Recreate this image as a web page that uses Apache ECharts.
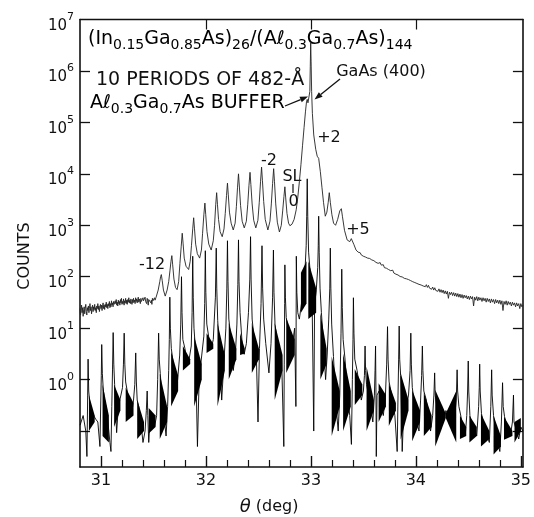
<!DOCTYPE html>
<html>
<head>
<meta charset="utf-8">
<script src="https://cdn.jsdelivr.net/npm/echarts@6/dist/echarts.min.js"></script>
<style>
  html, body { margin: 0; padding: 0; background: #fff; }
  #chart { width: 534px; height: 517px; }
</style>
</head>
<body>
<div id="chart"></div>
<script>
// Measured double-crystal rocking curve: [theta (deg), counts]
const measuredLowAngle = [
  [30.800,24],[30.805,18],[30.810,22],[30.815,28],[30.820,20],[30.825,25],[30.830,17],[30.835,23],[30.840,26],[30.845,19],
  [30.850,24],[30.855,29],[30.860,21],[30.865,18],[30.870,25],[30.875,22],[30.880,27],[30.885,20],[30.890,24],[30.895,30],
  [30.900,22],[30.905,26],[30.910,19],[30.915,24],[30.920,28],[30.925,21],[30.930,26],[30.935,23],[30.940,29],[30.945,22],
  [30.950,25],[30.955,20],[30.960,27],[30.965,24],[30.970,30],[30.975,23],[30.980,27],[30.985,21],[30.990,26],[30.995,29],
  [31.000,24],[31.005,28],[31.010,22],[31.015,27],[31.020,31],[31.025,24],[31.030,28],[31.035,23],[31.040,29],[31.045,26],
  [31.050,32],[31.055,25],[31.060,29],[31.065,24],[31.070,30],[31.075,27],[31.080,33],[31.085,25],[31.090,30],[31.095,26],
  [31.100,34],[31.105,28],[31.110,31],[31.115,26],[31.120,33],[31.125,29],[31.130,27],[31.135,34],[31.140,30],[31.145,36],
  [31.150,28],[31.155,32],[31.160,27],[31.165,35],[31.170,30],[31.175,33],[31.180,28],[31.185,36],[31.190,31],[31.195,38],
  [31.200,29],[31.205,33],[31.210,30],[31.215,37],[31.220,28],[31.225,34],[31.230,31],[31.235,38],[31.240,30],[31.245,35],
  [31.250,29],[31.255,36],[31.260,32],[31.265,39],[31.270,31],[31.275,35],[31.280,30],[31.285,37],[31.290,33],[31.295,29],
  [31.300,36],[31.305,31],[31.310,38],[31.315,32],[31.320,35],[31.325,30],[31.330,39],[31.335,33],[31.340,37],[31.345,31],
  [31.350,36],[31.355,40],[31.360,32],[31.365,37],[31.370,34],[31.375,30],[31.380,38],[31.385,33],[31.390,36],[31.395,31],
  [31.400,39],[31.405,34],[31.410,37],[31.415,32],[31.420,40],[31.425,33],[31.430,36],[31.435,30],[31.440,38],[31.445,34],
  [31.450,28],[31.455,36],[31.460,39],[31.465,33],[31.470,37],[31.475,31],[31.480,35],[31.485,29],[31.490,38],[31.495,34],
  [31.500,37],[31.505,33],[31.510,39],[31.515,35],[31.520,38],[31.525,40]
];
const measuredSatellites = [
  [31.53,42],[31.545,55],[31.56,80],[31.568,100],[31.575,110],[31.583,85],[31.595,55],[31.612,42],[31.63,55],
  [31.645,80],[31.657,130],[31.667,200],[31.675,257],[31.683,170],[31.695,90],[31.71,62],[31.725,56],[31.74,80],
  [31.752,180],[31.764,380],[31.774,700],[31.782,450],[31.793,230],[31.81,160],[31.835,138],[31.85,200],[31.862,400],
  [31.874,850],[31.883,1400],[31.891,850],[31.902,430],[31.918,280],[31.94,230],[31.957,330],[31.968,700],[31.98,1600],
  [31.99,2700],[31.998,1600],[32.01,750],[32.027,430],[32.05,330],[32.07,500],[32.082,1000],[32.093,2500],[32.102,4300],
  [32.11,2500],[32.12,1300],[32.135,750],[32.155,600],[32.172,850],[32.184,1700],[32.196,3800],[32.205,6600],[32.213,3900],
  [32.224,1800],[32.24,1100],[32.26,810],[32.278,1100],[32.29,2300],[32.301,5500],[32.31,10000],[32.318,5800],[32.33,2400],
  [32.345,1200],[32.365,890],[32.385,1200],[32.398,2500],[32.41,6000],[32.42,10700],[32.428,6200],[32.44,2600],[32.455,1250],
  [32.475,890],[32.495,1250],[32.508,2800],[32.52,7000],[32.53,13500],[32.538,7500],[32.55,2900],[32.565,1300],[32.59,810],
  [32.61,1200],[32.623,2600],[32.635,6500],[32.645,12600],[32.653,7000],[32.665,2600],[32.68,1150],[32.70,740],[32.718,1000],
  [32.731,1900],[32.743,3600],[32.752,5600],[32.76,3400],[32.772,1700],[32.787,1100],[32.80,980],[32.82,1050],[32.84,1300],
  [32.86,2000],[32.875,3500],[32.89,7000],[32.905,15000],[32.92,35000],[32.935,80000],[32.948,160000],[32.958,250000],
  [32.965,280000],[32.972,240000],[32.982,220000],[32.99,400000],[32.994,1200000],[32.998,3500000],[33.002,1500000],
  [33.007,400000],[33.014,150000],[33.027,57000],[33.046,30000],[33.06,22000],[33.074,20000],[33.09,11000],[33.105,5500],
  [33.12,2800],[33.137,1500],[33.152,1800],[33.165,2800],[33.175,4300],[33.185,2800],[33.2,1600],[33.216,1100],[33.235,1000],
  [33.255,1300],[33.275,1900],[33.29,2100],[33.3,1500],[33.32,800],[33.345,520],[33.37,480],[33.385,550],[33.398,560],
  [33.41,420],[33.43,330]
];
const measuredTail = [
  [33.45,300],[33.46,280],[33.47,292],[33.48,265],[33.49,275],[33.50,250],[33.51,262],[33.52,241],[33.53,255],[33.54,230],
  [33.55,238],[33.56,226],[33.57,242],[33.58,212],[33.59,220],[33.60,205],[33.61,214],[33.62,190],[33.63,200],[33.64,182],
  [33.65,176],[33.66,188],[33.67,168],[33.68,160],[33.69,171],[33.70,150],[33.71,158],[33.72,146],[33.73,154],[33.74,138],
  [33.75,144],[33.76,131],[33.77,126],[33.78,134],[33.79,118],[33.80,123],[33.81,112],[33.82,119],[33.83,108],[33.84,114],
  [33.85,101],[33.86,109],[33.87,99],[33.88,104],[33.89,93],[33.90,100],[33.91,91],[33.92,97],[33.93,88],[33.94,94],
  [33.95,84],[33.96,90],[33.97,80],[33.98,86],[33.99,77],[34.00,83],[34.01,74],[34.02,80],[34.03,71],[34.04,77],
  [34.05,69],[34.06,74],[34.07,66],[34.08,72],[34.09,64],[34.10,70],[34.11,62],[34.12,68],[34.13,60],[34.14,65],
  [34.15,57],[34.16,63],[34.17,55],[34.18,61],[34.19,54],[34.20,59],[34.21,52],[34.22,58],[34.23,50],[34.24,56],
  [34.25,49],[34.26,55],[34.27,47],[34.28,53],[34.29,46],[34.30,52],[34.31,38],[34.32,50],[34.33,45],[34.34,50],
  [34.35,43],[34.36,49],[34.37,42],[34.38,48],[34.39,41],[34.40,47],[34.41,40],[34.42,46],[34.43,39],[34.44,45],
  [34.45,38],[34.46,44],[34.47,39],[34.48,43],[34.49,37],[34.50,42],[34.51,36],[34.52,42],[34.53,37],[34.54,41],
  [34.55,27],[34.56,40],[34.57,35],[34.58,41],[34.59,34],[34.60,40],[34.61,35],[34.62,39],[34.63,33],[34.64,39],
  [34.65,34],[34.66,38],[34.67,32],[34.68,38],[34.69,33],[34.70,37],[34.71,31],[34.72,37],[34.73,32],[34.74,36],
  [34.75,30],[34.76,36],[34.77,31],[34.78,35],[34.79,30],[34.80,35],[34.81,29],[34.82,34],[34.83,22],[34.84,33],
  [34.85,29],[34.86,34],[34.87,28],[34.88,33],[34.89,29],[34.90,32],[34.91,27],[34.92,32],[34.93,28],[34.94,31],
  [34.95,26],[34.96,31],[34.97,27],[34.98,30],[34.99,24],[35.00,30],[35.01,26],[35.02,28]
];
const measured = measuredLowAngle.concat(measuredSatellites, measuredTail);

// Simulated rocking curve (kinematic model), thin trace: [theta (deg), counts]
const simulated = [
  [30.801,0.13],[30.83,0.2],[30.855,0.1],[30.866,0.032],[30.873,0.5],[30.877,2.5],
  [30.883,0.6],[30.895,0.32],[30.91,0.25],[30.93,0.2],[30.95,0.17],[30.97,0.15],[30.99,0.05],[30.998,0.4],[31.003,1.2],[31.007,4.8],
  [31.013,1.3],[31.022,0.63],[31.035,0.4],[31.06,0.2],[31.085,0.06],[31.095,0.04],[31.103,0.3],[31.11,1.6],[31.116,8.2],
  [31.122,2],[31.13,0.8],[31.149,0.093],[31.165,0.3],[31.19,0.5],[31.205,0.7],[31.214,2],[31.221,8],
  [31.227,2],[31.235,0.9],[31.25,0.6],[31.27,0.3],[31.29,0.2],[31.31,0.4],[31.322,0.8],[31.331,3.3],
  [31.337,0.9],[31.345,0.4],[31.36,0.3],[31.38,0.15],[31.40,0.06],[31.42,0.1],[31.432,0.25],[31.44,0.6],
  [31.446,0.2],[31.455,0.06],[31.47,0.2],[31.49,0.15],[31.51,0.12],[31.53,0.2],[31.54,1.0],[31.549,8],
  [31.555,2.5],[31.565,1.3],[31.58,0.5],[31.6,0.2],[31.62,0.08],[31.635,0.3],[31.645,1.5],[31.651,6],[31.656,40],
  [31.661,10],[31.67,4],[31.69,2],[31.71,0.5],[31.73,1],[31.75,3],[31.76,12],[31.767,100],
  [31.772,20],[31.78,6],[31.80,4],[31.82,2],[31.84,2.5],[31.86,4.5],[31.868,20],[31.874,250],
  [31.879,40],[31.886,10],[31.9,4],[31.919,0.05],[31.935,1],[31.96,3],[31.98,7],[31.988,30],[31.994,320],
  [31.999,50],[32.008,12],[32.03,6],[32.05,4],[32.07,6],[32.09,40],[32.098,360],
  [32.103,60],[32.112,14],[32.13,4],[32.15,0.4],[32.17,2],[32.19,10],[32.199,60],[32.205,500],
  [32.21,80],[32.218,15],[32.24,6],[32.26,1.5],[32.28,3],[32.295,12],[32.304,70],[32.31,520],
  [32.315,80],[32.325,20],[32.345,5],[32.364,3.1],[32.385,5],[32.405,20],[32.418,90],[32.425,600],
  [32.43,90],[32.44,15],[32.46,6],[32.48,3],[32.496,0.15],[32.51,4],[32.525,30],[32.534,400],
  [32.54,60],[32.55,15],[32.57,5],[32.6,1.35],[32.62,5],[32.635,40],[32.643,330],
  [32.648,50],[32.658,12],[32.68,5],[32.7,1.5],[32.72,3],[32.742,0.05],[32.746,2],[32.75,30],[32.752,170],
  [32.757,40],[32.765,16],[32.79,8],[32.81,3],[32.83,6],[32.845,10],[32.857,0.3],[32.861,250],
  [32.866,50],[32.875,20],[32.89,15],[32.91,30],[32.93,60],[32.945,150],[32.955,400],[32.96,1500],[32.965,8000],
  [32.97,1500],[32.978,300],[32.99,150],[33.01,60],[33.027,0.1],[33.035,30],[33.05,50],[33.065,150],[33.07,400],[33.074,1500],
  [33.079,300],[33.087,60],[33.1,20],[33.12,5],[33.14,1],[33.155,3],[33.17,15],[33.18,60],[33.185,360],
  [33.19,60],[33.198,12],[33.215,2.8],[33.24,0.3],[33.26,0.1],[33.275,0.5],[33.287,8],[33.294,140],
  [33.299,25],[33.307,6],[33.325,2.5],[33.35,0.5],[33.37,0.2],[33.386,0.055],[33.395,1],[33.401,6],[33.405,39],
  [33.41,8],[33.418,2.5],[33.44,1.5],[33.46,0.8],[33.48,0.4],[33.5,0.6],[33.51,1.2],[33.516,4.5],
  [33.521,1.5],[33.53,0.8],[33.55,0.5],[33.57,0.3],[33.59,0.15],[33.605,0.5],[33.611,1.5],[33.616,4.5],
  [33.62,0.5],[33.623,0.032],[33.63,0.5],[33.65,0.6],[33.67,0.3],[33.69,0.2],[33.71,0.5],[33.722,2],[33.73,10.7],
  [33.735,2.5],[33.745,0.9],[33.77,0.5],[33.8,0.2],[33.822,0.04],[33.83,0.5],[33.836,2.5],[33.841,11],
  [33.846,2.5],[33.855,1.2],[33.87,0.04],[33.89,0.5],[33.91,0.3],[33.93,0.5],[33.945,1.5],[33.952,8],
  [33.957,2],[33.966,0.7],[33.99,0.3],[34.01,0.15],[34.03,0.1],[34.045,0.4],[34.055,1.2],[34.062,4.5],
  [34.067,1.5],[34.076,0.6],[34.1,0.4],[34.12,0.2],[34.14,0.1],[34.16,0.2],[34.172,0.5],[34.179,1.35],
  [34.184,0.5],[34.2,0.3],[34.23,0.2],[34.26,0.15],[34.286,0.25],[34.31,0.2],[34.34,0.15],[34.37,0.2],[34.385,0.4],[34.393,1.55],
  [34.398,0.6],[34.41,0.3],[34.43,0.19],[34.45,0.1],[34.47,0.08],[34.485,0.2],[34.493,0.6],[34.499,2.3],
  [34.504,0.6],[34.515,0.2],[34.54,0.12],[34.56,0.1],[34.58,0.08],[34.598,0.3],[34.604,0.7],[34.608,2.0],
  [34.613,0.6],[34.625,0.22],[34.65,0.12],[34.68,0.08],[34.7,0.06],[34.714,0.3],[34.722,1.55],
  [34.727,0.5],[34.74,0.2],[34.76,0.1],[34.78,0.06],[34.8,0.04],[34.815,0.15],[34.826,0.87],
  [34.832,0.3],[34.845,0.19],[34.87,0.12],[34.9,0.08],[34.92,0.15],[34.93,0.5],[34.935,0.15],[34.96,0.1],[34.98,0.07],[35.0,0.12],[35.02,0.1]
];

// Unresolved thickness fringes of the simulation, as envelopes:
// [theta start, theta end, upper at start, lower at start, upper at end, lower at end]
const fringeBands = [
  [30.885,30.94,0.5,0.1,0.2,0.15],
  [31.015,31.075,0.8,0.08,0.2,0.06],
  [31.125,31.185,0.8,0.12,0.4,0.25],
  [31.235,31.31,0.7,0.15,0.35,0.2],
  [31.345,31.41,0.4,0.07,0.15,0.1],
  [31.455,31.52,0.28,0.09,0.2,0.12],
  [31.56,31.63,1.3,0.07,0.3,0.15],
  [31.668,31.735,3.5,0.3,1.2,0.6],
  [31.78,31.85,4.5,1.5,2.5,2],
  [31.888,31.96,7,0.3,2,1],
  [32.006,32.07,8,3.3,5,4],
  [32.11,32.18,12.6,0.3,3,1.5],
  [32.217,32.29,12.6,1,4,2.5],
  [32.325,32.37,8,3,4,3.2],
  [32.437,32.505,12.6,1.35,4,2.5],
  [32.655,32.73,12.6,0.4,3,1.5],
  [32.765,32.845,16,1.35,6,3],
  [32.905,32.958,120,20,200,30],
  [32.975,33.05,200,15,60,20],
  [33.09,33.15,20,1,4,2],
  [33.198,33.275,2.8,0.08,0.6,0.3],
  [33.307,33.38,3.2,0.1,0.6,0.3],
  [33.418,33.49,1.6,0.32,0.8,0.5],
  [33.53,33.6,1.8,0.1,0.4,0.25],
  [33.645,33.715,0.85,0.15,0.5,0.3],
  [33.742,33.81,0.85,0.126,0.35,0.25],
  [33.855,33.93,1.35,0.068,0.4,0.25],
  [33.965,34.04,0.63,0.063,0.25,0.15],
  [34.076,34.15,0.56,0.08,0.2,0.12],
  [34.185,34.285,0.63,0.05,0.22,0.18],
  [34.285,34.385,0.22,0.18,0.6,0.06],
  [34.42,34.48,0.2,0.07,0.12,0.08],
  [34.51,34.58,0.2,0.06,0.12,0.08],
  [34.62,34.7,0.22,0.05,0.1,0.07],
  [34.74,34.81,0.2,0.035,0.08,0.05],
  [34.84,34.92,0.19,0.068,0.1,0.08],
  [34.94,35.0,0.15,0.06,0.18,0.1]
];

// Axis ticks and labels
const thetaMajor = [31, 32, 33, 34, 35];
const thetaMinor = [31.2,31.4,31.6,31.8,32.2,32.4,32.6,32.8,33.2,33.4,33.6,33.8,34.2,34.4,34.6,34.8];
const thetaTop = [32, 33, 34];
const countTicks = [0.1, 1, 10, 100, 1e3, 1e4, 1e5, 1e6];
const countLabels = [1, 10, 100, 1e3, 1e4, 1e5, 1e6, 1e7];

const FONT = 'DejaVu Sans';
const INK = '#111';

const chart = echarts.init(document.getElementById('chart'), null, { renderer: 'canvas' });

const xBase = { type: 'value', min: 30.8, max: 35.02, gridIndex: 0, splitLine: { show: false } };
const yBase = { type: 'log', logBase: 10, min: 0.02, max: 1e7, gridIndex: 0, splitLine: { show: false }, minorTick: { show: false } };

// Formula text: main glyphs and lowered subscripts
const rich = {
  m: { fontSize: 19, fontFamily: FONT, color: INK, lineHeight: 22, verticalAlign: 'top' },
  s: { fontSize: 14, fontFamily: FONT, color: INK, lineHeight: 16, padding: [8, 0, 0, 0], verticalAlign: 'top' }
};

function label(text, x, y, opts) {
  return Object.assign({
    type: 'text', x: x, y: y, silent: true,
    style: { text: text, fill: INK, font: '16px "' + FONT + '"', align: 'center', verticalAlign: 'middle' }
  }, opts || {});
}

function arrow(x1, y1, x2, y2) {
  const dx = x2 - x1, dy = y2 - y1, len = Math.hypot(dx, dy);
  const ux = dx / len, uy = dy / len, px = -uy, py = ux;
  const bx = x2 - 8 * ux, by = y2 - 8 * uy;
  return [
    { type: 'line', silent: true, shape: { x1: x1, y1: y1, x2: bx, y2: by }, style: { stroke: INK, lineWidth: 1.3 } },
    { type: 'polygon', silent: true, shape: { points: [[x2, y2], [bx + 3 * px, by + 3 * py], [bx - 3 * px, by - 3 * py]] }, style: { fill: INK } }
  ];
}

const titleText = '{m|(In}{s|0.15}{m|Ga}{s|0.85}{m|As)}{s|26}{m|/(Aℓ}{s|0.3}{m|Ga}{s|0.7}{m|As)}{s|144}';
const bufferText = '{m|Aℓ}{s|0.3}{m|Ga}{s|0.7}{m|As BUFFER}';

chart.setOption({
  animation: false,
  backgroundColor: '#fff',
  grid: { left: 80, top: 19.5, width: 445.5, height: 447.5, containLabel: false },
  xAxis: [
    Object.assign({}, xBase, {
      position: 'bottom',
      axisLine: { show: true, onZero: false, lineStyle: { color: INK, width: 1.6 } },
      axisTick: { show: true, inside: true, length: 11, customValues: thetaMajor, lineStyle: { color: INK, width: 1.4 } },
      axisLabel: { show: true, customValues: thetaMajor, margin: 6, color: INK, fontSize: 16, fontFamily: FONT }
    }),
    Object.assign({}, xBase, {
      position: 'bottom',
      axisLine: { show: false, onZero: false },
      axisTick: { show: true, inside: true, length: 7, customValues: thetaMinor, lineStyle: { color: INK, width: 1.2 } },
      axisLabel: { show: false }
    }),
    Object.assign({}, xBase, {
      position: 'top',
      axisLine: { show: true, onZero: false, lineStyle: { color: INK, width: 1.4 } },
      axisTick: { show: true, inside: true, length: 10, customValues: thetaTop, lineStyle: { color: INK, width: 1.2 } },
      axisLabel: { show: false }
    })
  ],
  yAxis: [
    Object.assign({}, yBase, {
      position: 'left',
      axisLine: { show: true, onZero: false, lineStyle: { color: INK, width: 1.6 } },
      axisTick: { show: true, inside: true, length: 10, customValues: countTicks, lineStyle: { color: INK, width: 1.3 } },
      axisLabel: {
        show: true, customValues: countLabels, margin: 6,
        formatter: function (v) { return '{b|10}{e|' + Math.round(Math.log10(v)) + '}'; },
        rich: {
          b: { fontSize: 15, fontFamily: FONT, color: INK, lineHeight: 16, padding: [7, 0, 0, 0], verticalAlign: 'top' },
          e: { fontSize: 11, fontFamily: FONT, color: INK, lineHeight: 12, verticalAlign: 'top' }
        }
      }
    }),
    Object.assign({}, yBase, {
      position: 'right',
      axisLine: { show: true, onZero: false, lineStyle: { color: INK, width: 1.6 } },
      axisTick: { show: true, inside: true, length: 10, customValues: countTicks, lineStyle: { color: INK, width: 1.3 } },
      axisLabel: { show: false }
    })
  ],
  series: [
    {
      name: 'fringes', type: 'custom', xAxisIndex: 0, yAxisIndex: 0, clip: true, silent: true,
      data: fringeBands.map(function (b) { return [b[0], b[2]]; }),
      renderItem: function (params, api) {
        const b = fringeBands[params.dataIndex];
        const pts = [api.coord([b[0], b[2]]), api.coord([b[1], b[4]]), api.coord([b[1], b[5]]), api.coord([b[0], b[3]])];
        return { type: 'polygon', shape: { points: pts }, style: { fill: '#000' } };
      }
    },
    {
      name: 'simulated', type: 'line', xAxisIndex: 0, yAxisIndex: 0, data: simulated,
      showSymbol: false, symbol: 'none', clip: true, silent: true,
      lineStyle: { color: '#000', width: 0.9 }
    },
    {
      name: 'measured', type: 'line', xAxisIndex: 0, yAxisIndex: 0, data: measured,
      showSymbol: false, symbol: 'none', clip: true, silent: true,
      lineStyle: { color: '#222', width: 0.9 }
    }
  ],
  graphic: [
    label(titleText, 88, 30, { style: { text: titleText, rich: rich, align: 'left', verticalAlign: 'top' } }),
    label('10 PERIODS OF 482-Å', 96, 80, { style: { text: '10 PERIODS OF 482-Å', fill: INK, font: '19px "' + FONT + '"', align: 'left', verticalAlign: 'middle' } }),
    label(bufferText, 90, 94, { style: { text: bufferText, rich: rich, align: 'left', verticalAlign: 'top' } }),
    label('GaAs (400)', 381, 72),
    label('-12', 152, 265),
    label('-2', 269, 161),
    label('SL', 292, 177),
    { type: 'line', silent: true, shape: { x1: 293, y1: 184, x2: 293, y2: 193 }, style: { stroke: INK, lineWidth: 1.2 } },
    label('0', 293.5, 202),
    label('+2', 329, 138),
    label('+5', 358, 230),
    label('COUNTS', 25, 256, { rotation: Math.PI / 2 }),
    label('{i|θ} (deg)', 269, 507, { style: { text: '{i|θ} (deg)', fill: INK, font: '16px "' + FONT + '"', align: 'center', verticalAlign: 'middle',
      rich: { i: { fontSize: 18, fontStyle: 'italic', fontFamily: FONT, color: INK } } } })
  ].concat(arrow(285, 106, 308, 96.5), arrow(340, 79, 314.5, 99.5))
});
</script>
</body>
</html>
